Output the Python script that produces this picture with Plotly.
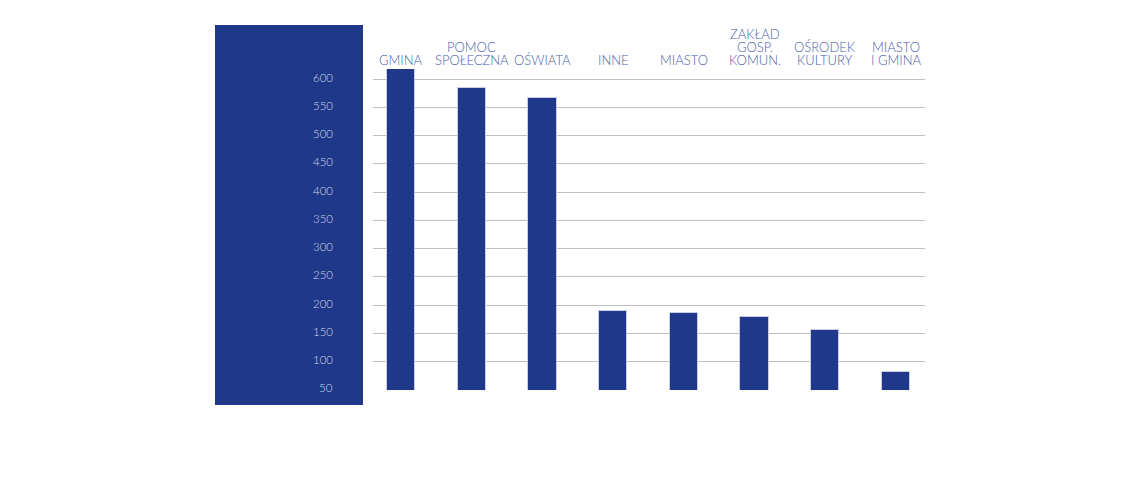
import plotly.graph_objects as go

categories = ["GMINA", "POMOC<br>SPOŁECZNA", "OŚWIATA", "INNE", "MIASTO",
              "ZAKŁAD<br>GOSP.<br>KOMUN.", "OŚRODEK<br>KULTURY", "MIASTO<br>I GMINA"]
values = [617, 584, 566, 190, 185, 179, 156, 81]
y_ticks = [50, 100, 150, 200, 250, 300, 350, 400, 450, 500, 550, 600]

BLUE = "#1f388a"
LABEL = "#4a5ea8"
positions = list(range(len(categories)))

fig = go.Figure()
fig.add_trace(go.Bar(
    x=positions, y=values, width=0.4,
    marker=dict(color=BLUE, line=dict(color="#c9cfe3", width=1)),
    hoverinfo="skip",
))

W, H = 1140, 480
OFF = 8  # page offset of the figure in the browser
L, R, T, B = 373 - OFF, 925 - OFF, 69 - OFF, 390 - OFF

fig.update_layout(
    width=W, height=H,
    margin=dict(l=L, r=W - R, t=T, b=H - B, pad=0),
    plot_bgcolor="white", paper_bgcolor="white",
    showlegend=False, bargap=0,
    font=dict(family="Lato", color=LABEL),
    xaxis=dict(
        tickmode="array", tickvals=positions, showticklabels=False,
        range=[-0.396, 7.41], showgrid=False, zeroline=False, showline=False,
        ticks="",
    ),
    yaxis=dict(
        range=[49.6, 617.7], tickmode="array", tickvals=y_ticks,
        showgrid=True, gridcolor="#bfbfbf", gridwidth=1, zeroline=False,
        showline=False, ticks="", showticklabels=False,
    ),
)

# category labels on top, one annotation per text line (tight line spacing)
for pos, cat in zip(positions, categories):
    lines = cat.split("<br>")
    for k, line in enumerate(reversed(lines)):
        fig.add_annotation(
            x=pos, xref="x", y=1, yref="paper",
            text=line, showarrow=False, xanchor="center", yanchor="middle",
            yshift=9 + 13 * k,
            font=dict(family="Lato", size=13, color=LABEL, weight=300),
        )

# y tick labels inside the blue panel
x_lab = (335 - OFF - L) / (R - L)
for v in y_ticks:
    fig.add_annotation(
        x=x_lab, xref="paper", y=v, yref="y", text=str(v), showarrow=False,
        xanchor="right", yanchor="middle", yshift=2,
        font=dict(family="Lato", size=11.5, color="#d0d5e6", weight=300),
    )

fig.add_shape(type="rect", xref="paper", yref="paper",
              x0=(215 - OFF - L) / (R - L), x1=(363 - OFF - L) / (R - L),
              y0=(B - (405 - OFF)) / (B - T), y1=(B - (25 - OFF)) / (B - T),
              fillcolor=BLUE, line=dict(width=0), layer="below")

fig.write_html("out.html")
